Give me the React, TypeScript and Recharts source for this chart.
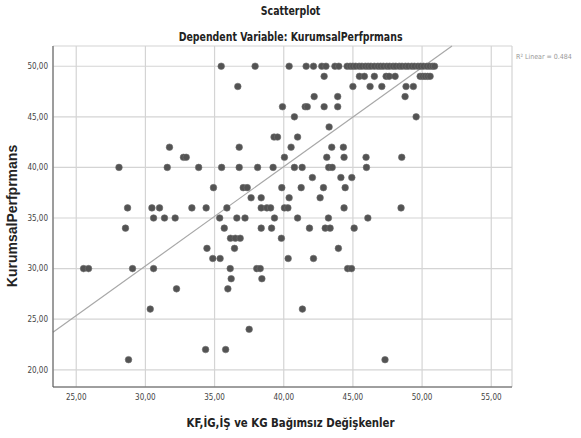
import React from "react";
import {
    ScatterChart,
    Scatter,
    XAxis,
    YAxis,
    CartesianGrid,
    ReferenceLine,
    Label,
} from "recharts";

// tick values
const xTicks = [25, 30, 35, 40, 45, 50, 55];
const yTicks = [20, 25, 30, 35, 40, 45, 50];

// independent-variable values, grouped by KurumsalPerfprmans score
const at50 = [35.48, 37.93, 40.39, 41.62, 42.15, 42.75, 43.05, 43.7, 43.98, 44.58, 44.8, 45.0, 45.2, 45.45, 45.65, 45.9, 46.1, 46.3, 46.55, 46.8, 47.0, 47.2, 47.45, 47.65, 47.9, 48.1, 48.35, 48.55, 48.8, 49.0, 49.25, 49.45, 49.7, 49.9, 50.1, 50.35, 50.55, 50.75, 50.9];
const at49 = [42.92, 45.47, 45.83, 46.55, 47.4, 47.62, 48.05, 49.86, 50.05, 50.22, 50.4, 50.58];
const at48 = [36.68, 45.0, 46.24, 47.09, 48.84, 49.37];
const at47 = [42.2, 43.9, 48.77];
const at46 = [39.91, 41.55, 41.7, 42.92, 43.9];
const at45 = [40.77, 49.57];
const at44 = [43.28];
const at43 = [39.3, 39.55, 41.0];
const at42 = [31.74, 36.78, 40.53, 43.47, 44.31];
const at41 = [32.75, 32.95, 40.05, 43.11, 44.36, 45.95, 48.53];
const at40 = [28.09, 31.58, 33.85, 35.51, 36.78, 38.11, 39.23, 40.77, 41.33, 43.25, 43.5, 45.98];
const at39 = [42.07, 44.13, 44.92];
const at38 = [34.92, 37.07, 37.36, 39.86, 41.26, 42.87, 44.44];
const at37 = [37.64, 38.37, 40.39, 42.63];
const at36 = [28.71, 30.47, 31.02, 33.36, 34.39, 35.89, 38.37, 38.78, 39.05, 40.05, 40.3, 44.36, 48.48];
const at35 = [30.59, 31.38, 32.15, 35.37, 36.61, 37.2, 39.33, 41.0, 43.23, 46.08];
const at34 = [28.56, 35.7, 38.37, 39.12, 41.86, 43.0, 43.35, 45.09];
const at33 = [36.15, 36.5, 36.85, 39.83];
const at32 = [34.45, 36.44, 43.95];
const at31 = [34.87, 35.4, 40.32, 42.15];
const at30 = [25.53, 25.89, 29.07, 30.59, 36.13, 38.05, 38.3, 44.62, 44.9];
const at29 = [36.2, 38.42];
const at28 = [32.25, 35.96];
const at26 = [30.35, 41.35];
const at24 = [37.5];
const at22 = [34.35, 35.8];
const at21 = [28.78, 47.32];

const levels: [number, number[]][] = [
    [50, at50], [49, at49], [48, at48], [47, at47], [46, at46], [45, at45],
    [44, at44], [43, at43], [42, at42], [41, at41], [40, at40], [39, at39],
    [38, at38], [37, at37], [36, at36], [35, at35], [34, at34], [33, at33],
    [32, at32], [31, at31], [30, at30], [29, at29], [28, at28], [26, at26],
    [24, at24], [22, at22], [21, at21],
];

// linear fit, R2 Linear = 0.484
const fitIntercept = 0.83;
const fitSlope = 0.981;
const rSquared = "0.484";

const xDomain: [number, number] = [23.32, 56.5];
const yDomain: [number, number] = [18.3, 52.0];

const points = levels.flatMap(([y, xs]) => xs.map((x) => ({ x, y })));

const fmt = (v: number) => v.toFixed(2).replace(".", ",");
const narrow = "'Liberation Sans Narrow', 'DejaVu Sans Condensed', sans-serif";

const Dot = (props: any) => (
    <circle cx={props.cx} cy={props.cy} r={3.3} fill="#535353" stroke="#6e6e6e" strokeWidth={0.6} />
);

const titleStyle: React.CSSProperties = {
    position: "absolute",
    left: 0,
    width: 581,
    textAlign: "center",
    fontFamily: narrow,
    fontWeight: 700,
    fontSize: 12,
    color: "#222",
    transform: "scaleX(0.87)",
    transformOrigin: "291px 0",
};

export default function App() {
    const W = 581;
    const H = 438;
    const fitEnd = (yDomain[1] - fitIntercept) / fitSlope;

    return (
        <div style={{ position: "absolute", left: 0, top: 0, width: W, height: H, background: "#fff" }}>
            <div style={{ ...titleStyle, top: 4 }}>Scatterplot</div>
            <div style={{ ...titleStyle, top: 30 }}>Dependent Variable: KurumsalPerfprmans</div>
            <div
                style={{
                    position: "absolute",
                    left: 516,
                    top: 53,
                    fontFamily: narrow,
                    fontSize: 7,
                    color: "#999",
                    whiteSpace: "nowrap",
                }}
            >
                R² Linear = {rSquared}
            </div>
            <ScatterChart width={W} height={H} margin={{ top: 46, right: 69, bottom: 6, left: 8 }}>
                <CartesianGrid stroke="#d4d4d4" strokeWidth={1.2} />
                <XAxis
                    type="number"
                    dataKey="x"
                    domain={xDomain}
                    ticks={xTicks}
                    tickFormatter={fmt}
                    allowDataOverflow
                    height={45}
                    tickLine={false}
                    tickSize={3}
                    tickMargin={4}
                    stroke="#555"
                    tick={{ fontSize: 8, fill: "#444", fontFamily: narrow }}
                >
                    <Label
                        content={({ viewBox }: any) => (
                            <text
                                x={viewBox.x + viewBox.width / 2 + 8}
                                y={viewBox.y + 40}
                                textAnchor="middle"
                                fontFamily={narrow}
                                fontWeight={700}
                                fontSize={12}
                                fill="#222"
                                textLength={208}
                                lengthAdjust="spacingAndGlyphs"
                            >
                                KF,İG,İŞ ve KG Bağımsız Değişkenler
                            </text>
                        )}
                    />
                </XAxis>
                <YAxis
                    type="number"
                    dataKey="y"
                    domain={yDomain}
                    ticks={yTicks}
                    tickFormatter={fmt}
                    allowDataOverflow
                    width={45}
                    tickLine={false}
                    tickSize={3}
                    tickMargin={2}
                    stroke="#555"
                    tick={{ fontSize: 8, fill: "#444", fontFamily: narrow }}
                >
                    <Label
                        content={() => {
                            const cx = 12;
                            const cy = 216;
                            return (
                                <text
                                    x={cx}
                                    y={cy}
                                    transform={`rotate(-90 ${cx} ${cy})`}
                                    textAnchor="middle"
                                    dominantBaseline="central"
                                    fontFamily="'Liberation Sans', Arial, sans-serif"
                                    fontWeight={700}
                                    fontSize={14}
                                    fill="#222"
                                >
                                    KurumsalPerfprmans
                                </text>
                            );
                        }}
                    />
                </YAxis>
                <ReferenceLine
                    segment={[
                        { x: xDomain[0], y: fitIntercept + fitSlope * xDomain[0] },
                        { x: fitEnd, y: yDomain[1] },
                    ]}
                    stroke="#a8a8a8"
                    strokeWidth={1.2}
                    ifOverflow="visible"
                />
                <Scatter data={points} shape={Dot} isAnimationActive={false} />
            </ScatterChart>
        </div>
    );
}
